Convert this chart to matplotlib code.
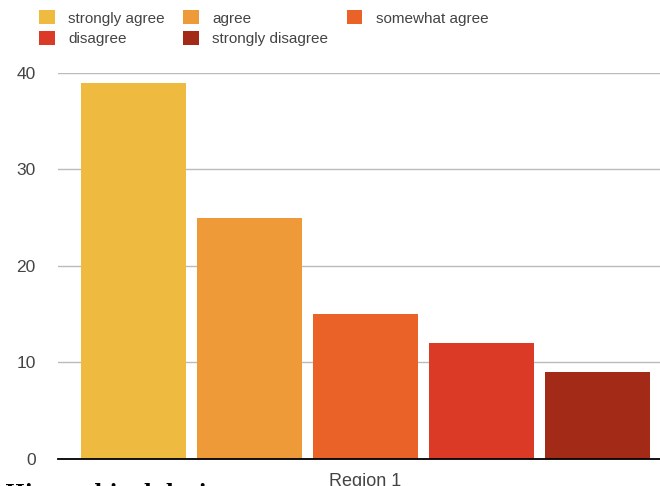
import matplotlib.pyplot as plt

# survey answers for region 1
answers = ['strongly agree', 'agree', 'somewhat agree', 'disagree', 'strongly disagree']
counts = [39, 25, 15, 12, 9]
colors = ['#EEBB40', '#EF9A38', '#EB6229', '#DA3A26', '#A32A17']
region = 'Region 1'

plt.rcParams['font.family'] = ['Liberation Sans', 'DejaVu Sans']

fig = plt.figure(figsize=(6.6, 4.86), dpi=100)
ax = fig.add_axes([0.088, 0.0556, 0.912, 0.7942])

pos = range(len(counts))
bars = ax.bar(pos, counts, width=0.905, color=colors, zorder=3)

ax.set_ylim(0, 40)
ax.set_xlim(-0.646, 4.539)
ax.set_yticks([0, 10, 20, 30, 40])
ax.yaxis.grid(True, color='#BBBBBB', linewidth=1, zorder=0)
ax.set_xticks([2])
ax.set_xticklabels([region], color='#444444', fontsize=13)
ax.tick_params(axis='y', length=0, pad=16, labelsize=12.5, labelcolor='#444444')
ax.tick_params(axis='x', length=0, pad=10)
for s in ['top', 'right', 'left']:
    ax.spines[s].set_visible(False)
ax.spines['bottom'].set_color('black')
ax.spines['bottom'].set_linewidth(1.3)
ax.spines['bottom'].set_zorder(4)

# legend filled row by row (matplotlib fills column first)
order = [0, 3, 1, 4, 2]
fig.legend([bars[i] for i in order], [answers[i] for i in order],
           ncol=3, loc='upper left', bbox_to_anchor=(0.041, 1.004),
           frameon=False, fontsize=11, labelcolor='#444444',
           handlelength=1.0, handleheight=1.05, handletextpad=0.9,
           columnspacing=1.2, labelspacing=0.35, borderpad=0.3)

fig.text(0.008, 0.006, 'Hierarchical design', fontsize=15, fontweight='bold',
         family='DejaVu Serif', va='top', ha='left')

fig.savefig('out.png', dpi=100)
